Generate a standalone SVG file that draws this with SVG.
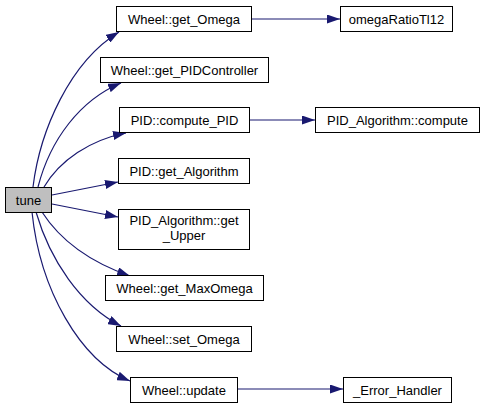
<svg xmlns="http://www.w3.org/2000/svg" width="484" height="408" viewBox="0 0 484 408">
<style>
.n rect{fill:#fff;stroke:#000;stroke-width:1}
#tune rect{fill:#bfbfbf}
text{font-family:"Liberation Sans",Arial,sans-serif;font-size:13px;fill:#000;text-anchor:middle}
.e path{fill:none;stroke:#191970;stroke-width:1.2;marker-end:url(#ah)}
</style>
<defs>
<marker id="ah" viewBox="0 0 13 9" refX="13" refY="4.5" markerWidth="13" markerHeight="9" markerUnits="userSpaceOnUse" orient="auto">
<path d="M0,0 L13,4.5 L0,9 z" fill="#191970"/>
</marker>
</defs>
<g id="edges" class="e">
<path d="M 33,187 C 40,130 70,62 119,32"/>
<path d="M 38,187 C 50,140 80,100 121,83"/>
<path d="M 44,187 C 60,160 90,140 126,133"/>
<path d="M 52,195 L 118,182"/>
<path d="M 52,204 L 118,217"/>
<path d="M 42,212 C 60,240 90,262 130,276"/>
<path d="M 36,212 C 50,260 80,305 121,326"/>
<path d="M 32,212 C 40,290 80,360 130,381"/>
<path d="M 252,19 L 340,19"/>
<path d="M 249,120 L 315,120"/>
<path d="M 237,389 L 343,389"/>
</g>
<g id="tune" class="n"><rect x="5.5" y="187.5" width="46" height="25"/><text x="28.5" y="204.5">tune</text></g>
<g id="get_Omega" class="n"><rect x="116.5" y="6.5" width="135" height="25"/><text x="184" y="23.5">Wheel::get_Omega</text></g>
<g id="omegaRatio" class="n"><rect x="340.5" y="6.5" width="112" height="25"/><text x="396.5" y="23.5">omegaRatioTl12</text></g>
<g id="get_PIDController" class="n"><rect x="100.5" y="57.5" width="168" height="25"/><text x="184.5" y="74.5">Wheel::get_PIDController</text></g>
<g id="compute_PID" class="n"><rect x="119.5" y="107.5" width="130" height="25"/><text x="184.5" y="124.5">PID::compute_PID</text></g>
<g id="alg_compute" class="n"><rect x="315.5" y="107.5" width="164" height="25"/><text x="397.5" y="124.5">PID_Algorithm::compute</text></g>
<g id="get_Algorithm" class="n"><rect x="118.5" y="158.5" width="131" height="25"/><text x="184" y="175.5">PID::get_Algorithm</text></g>
<g id="get_Upper" class="n"><rect x="118.5" y="209.5" width="131" height="40"/><text x="184" y="225">PID_Algorithm::get</text><text x="184" y="240">_Upper</text></g>
<g id="get_MaxOmega" class="n"><rect x="105.5" y="275.5" width="158" height="25"/><text x="184.5" y="292.5">Wheel::get_MaxOmega</text></g>
<g id="set_Omega" class="n"><rect x="116.5" y="326.5" width="135" height="25"/><text x="184" y="343.5">Wheel::set_Omega</text></g>
<g id="update" class="n"><rect x="130.5" y="377.5" width="107" height="25"/><text x="184" y="394.5">Wheel::update</text></g>
<g id="error_handler" class="n"><rect x="343.5" y="377.5" width="108" height="25"/><text x="397.5" y="394.5">_Error_Handler</text></g>
</svg>
